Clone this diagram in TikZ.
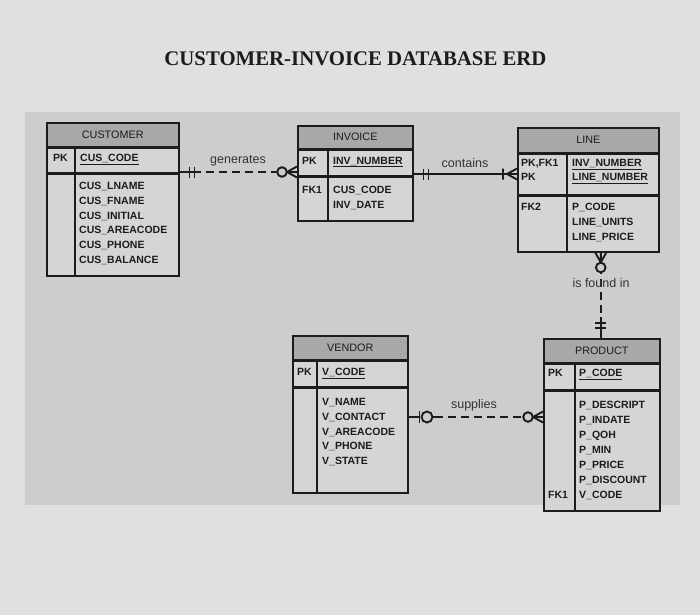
\documentclass[tikz,border=0pt]{standalone}
\usepackage{fontspec}
\setmainfont{Liberation Serif}
\setsansfont{Liberation Sans}
\usetikzlibrary{calc}
\definecolor{paper}{HTML}{E2E0DF}
\definecolor{panel}{HTML}{CDCDCD}
\definecolor{hdrfill}{HTML}{A8A8A8}
\definecolor{cellfill}{HTML}{D5D5D5}
\definecolor{ink}{HTML}{1C1C1C}
\definecolor{relink}{HTML}{333333}

\begin{document}
\begin{tikzpicture}[x=1pt,y=-1pt,
  hdr/.style={draw=ink,line width=1.5pt,fill=hdrfill,anchor=north west,inner sep=0pt,text=ink,font=\sffamily\fontsize{10.8}{12}\selectfont},
  cell/.style={draw=ink,line width=1.5pt,fill=cellfill,anchor=north west,inner sep=0pt},
  tabline/.style={draw=ink,line width=1.5pt},
  keytxt/.style={anchor=base west,inner sep=0pt,text=ink,font=\sffamily\bfseries\fontsize{10.5}{12}\selectfont},
  atttxt/.style={anchor=north west,inner sep=0pt,align=left,text=ink,font=\sffamily\bfseries\fontsize{10.5}{14.7}\selectfont},
  rlab/.style={inner sep=0pt,text=relink,font=\sffamily\fontsize{12.5}{14}\selectfont},
  rel/.style={draw=ink,line width=1.9pt},
  dashrel/.style={dash pattern=on 8pt off 5pt},
  mandone/.pic={\draw[rel] (0,0) -- (21,0) (10,-5.5) -- (10,5.5) (15,-5.5) -- (15,5.5);},
  zeromany/.pic={\draw[rel] (0,0) -- (10,0) (0,-5.5) -- (10,0) -- (0,5.5); \draw[rel,fill=panel] (15,0) circle (4.8pt);},
  onemany/.pic={\draw[rel] (0,0) -- (16,0) (0,-5.5) -- (10,0) -- (0,5.5) (14,-5.5) -- (14,5.5);},
  zeroone/.pic={\draw[rel] (0,0) -- (11,0) (11,-6) -- (11,6); \draw[rel,fill=panel] (18.5,0) circle (5.5pt); \draw[rel] (24,0) -- (31,0);}]
\useasboundingbox (0,0) rectangle (700,615);
\fill[paper] (0,0) rectangle (700,615);
\fill[panel] (25,112) rectangle (680,505);
\node[text=ink,font=\bfseries\fontsize{20.8}{24}\selectfont] (title) at (355.5,59) {CUSTOMER-INVOICE DATABASE ERD};

\node[hdr,minimum width=132pt,minimum height=24pt] (cusH) at (46,122) {CUSTOMER};
\node[cell,minimum width=132pt,minimum height=24pt] (cusK) at (cusH.south west) {};
\node[cell,minimum width=132pt,minimum height=102pt] (cusB) at (cusK.south west) {};
\draw[tabline] ([xshift=29pt]cusK.north west) -- ([xshift=29pt]cusB.south west);
\node[keytxt] (cusPK) at (53,161.5) {PK};
\node[keytxt] (cusID) at (80,161.5) {\underline{CUS\_CODE}};
\node[atttxt] (cusAtt) at (79,182.2) {CUS\_LNAME\\CUS\_FNAME\\CUS\_INITIAL\\CUS\_AREACODE\\CUS\_PHONE\\CUS\_BALANCE};

\node[hdr,minimum width=115pt,minimum height=23pt] (invH) at (297,125) {INVOICE};
\node[cell,minimum width=115pt,minimum height=25pt] (invK) at (invH.south west) {};
\node[cell,minimum width=115pt,minimum height=44pt] (invB) at (invK.south west) {};
\draw[tabline] ([xshift=31pt]invK.north west) -- ([xshift=31pt]invB.south west);
\node[keytxt] (invPK) at (302,164) {PK};
\node[keytxt] (invID) at (333,164) {\underline{INV\_NUMBER}};
\node[keytxt] (invFK) at (302,193.8) {FK1};
\node[atttxt] (invAtt) at (333,186.2) {CUS\_CODE\\INV\_DATE};

\node[hdr,minimum width=141pt,minimum height=25pt] (lineH) at (517,127) {LINE};
\node[cell,minimum width=141pt,minimum height=40pt] (lineK) at (lineH.south west) {};
\node[cell,minimum width=141pt,minimum height=56pt] (lineB) at (lineK.south west) {};
\draw[tabline] ([xshift=50pt]lineK.north west) -- ([xshift=50pt]lineB.south west);
\node[atttxt,font=\sffamily\bfseries\fontsize{10.5}{14}\selectfont] (linePK) at (521,159.2) {PK,FK1\\PK};
\node[atttxt,font=\sffamily\bfseries\fontsize{10.5}{14}\selectfont] (lineID) at (572,159.2) {\underline{INV\_NUMBER}\\\underline{LINE\_NUMBER}};
\node[keytxt] (lineFK) at (521,210.8) {FK2};
\node[atttxt] (lineAtt) at (572,203.2) {P\_CODE\\LINE\_UNITS\\LINE\_PRICE};

\node[hdr,minimum width=115pt,minimum height=24pt] (venH) at (292,335) {VENDOR};
\node[cell,minimum width=115pt,minimum height=25pt] (venK) at (venH.south west) {};
\node[cell,minimum width=115pt,minimum height=105pt] (venB) at (venK.south west) {};
\draw[tabline] ([xshift=25pt]venK.north west) -- ([xshift=25pt]venB.south west);
\node[keytxt] (venPK) at (297,375.7) {PK};
\node[keytxt] (venID) at (322,375.7) {\underline{V\_CODE}};
\node[atttxt] (venAtt) at (322,398.2) {V\_NAME\\V\_CONTACT\\V\_AREACODE\\V\_PHONE\\V\_STATE};

\node[hdr,minimum width=116pt,minimum height=24pt] (prodH) at (543,338) {PRODUCT};
\node[cell,minimum width=116pt,minimum height=25pt] (prodK) at (prodH.south west) {};
\node[cell,minimum width=116pt,minimum height=120pt] (prodB) at (prodK.south west) {};
\draw[tabline] ([xshift=32pt]prodK.north west) -- ([xshift=32pt]prodB.south west);
\node[keytxt] (prodPK) at (548,376.7) {PK};
\node[keytxt] (prodID) at (579,376.7) {\underline{P\_CODE}};
\node[atttxt,font=\sffamily\bfseries\fontsize{10.5}{15}\selectfont] (prodAtt) at (579,401.2) {P\_DESCRIPT\\P\_INDATE\\P\_QOH\\P\_MIN\\P\_PRICE\\P\_DISCOUNT\\V\_CODE};
\node[keytxt] (prodFK) at (548,498.8) {FK1};

\coordinate (genL) at ([yshift=1pt]cusK.south east);
\coordinate (genR) at (genL -| invK.west);
\draw[rel,dashrel] (genL) -- (genR);
\pic at (genL) {mandone};
\pic[rotate=180] at (genR) {zeromany};
\node[rlab] (genLab) at (238,161) {generates};

\coordinate (conL) at ([yshift=2pt]invK.south east);
\coordinate (conR) at (conL -| lineK.west);
\draw[rel] (conL) -- (conR);
\pic at (conL) {mandone};
\pic[rotate=180] at (conR) {onemany};
\node[rlab] (conLab) at (465,163) {contains};

\coordinate (fndT) at ([xshift=12.5pt]lineB.south);
\coordinate (fndB) at (fndT |- prodH.north);
\draw[rel,dashrel] (fndT) -- (fndB);
\pic[rotate=-90] at (fndT) {zeromany};
\pic[rotate=90] at (fndB) {mandone};
\node[rlab] (fndLab) at (601,283) {is found in};

\coordinate (supL) at ([yshift=-30pt]venB.north east);
\coordinate (supR) at (supL -| prodB.west);
\draw[rel,dashrel] (supL) -- (supR);
\pic at (supL) {zeroone};
\pic[rotate=180] at (supR) {zeromany};
\node[rlab] (supLab) at (474,405) {supplies};
\end{tikzpicture}
\end{document}
